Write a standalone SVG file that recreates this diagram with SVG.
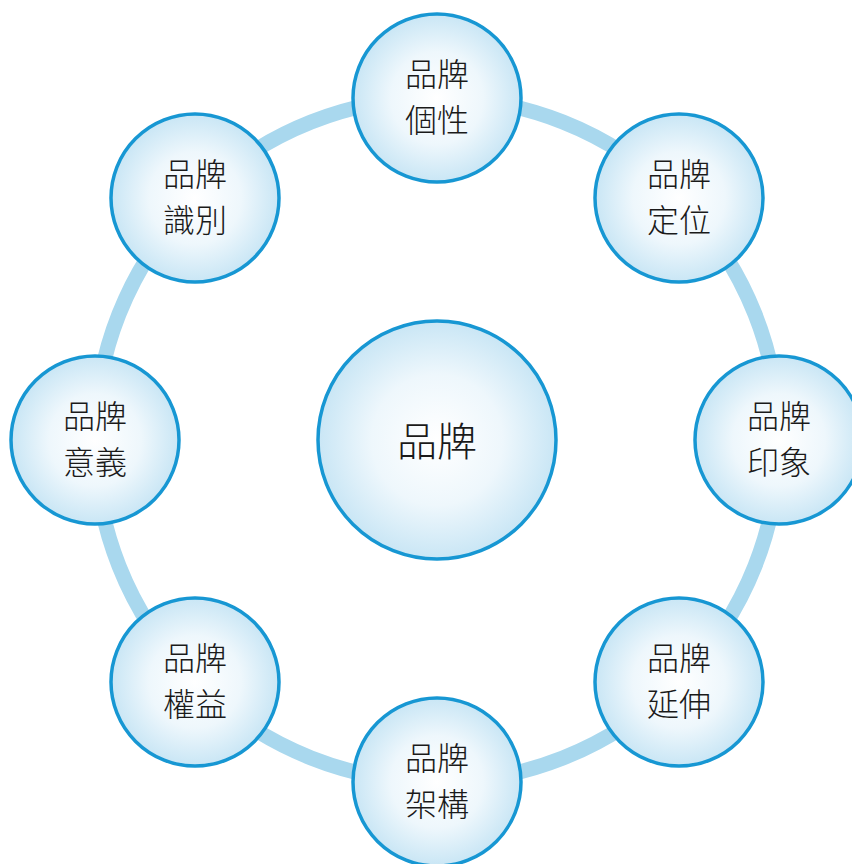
<svg xmlns="http://www.w3.org/2000/svg" width="852" height="864" viewBox="0 0 852 864">
<defs>
<radialGradient id="g" cx="50%" cy="50%" r="50%">
<stop offset="0" stop-color="#ffffff"/>
<stop offset="0.55" stop-color="#eef7fc"/>
<stop offset="1" stop-color="#c9e6f5"/>
</radialGradient>
<style>
.n{fill:url(#g);stroke:#1797d3;stroke-width:3.5}
.t{font-family:"Noto Sans CJK TC","Noto Sans CJK SC",sans-serif;font-weight:200;font-size:32px;fill:#1a1a1a;text-anchor:middle}
.c{font-size:40px}
</style>
</defs>
<rect width="852" height="864" fill="#ffffff"/>
<g id="connectors">
<circle cx="437" cy="440" r="342" fill="none" stroke="#a9d8ee" stroke-width="15"/>
</g>
<g id="center"><circle class="n" cx="437" cy="440" r="119"/><text class="t c" x="437" y="456">品牌</text></g>
<g id="n1"><circle class="n" cx="437" cy="98" r="84"/><text class="t" x="437" y="86">品牌</text><text class="t" x="437" y="132">個性</text></g>
<g id="n2"><circle class="n" cx="679" cy="198" r="84"/><text class="t" x="679" y="186">品牌</text><text class="t" x="679" y="232">定位</text></g>
<g id="n3"><circle class="n" cx="779" cy="440" r="84"/><text class="t" x="779" y="428">品牌</text><text class="t" x="779" y="474">印象</text></g>
<g id="n4"><circle class="n" cx="679" cy="682" r="84"/><text class="t" x="679" y="670">品牌</text><text class="t" x="679" y="716">延伸</text></g>
<g id="n5"><circle class="n" cx="437" cy="782" r="84"/><text class="t" x="437" y="770">品牌</text><text class="t" x="437" y="816">架構</text></g>
<g id="n6"><circle class="n" cx="195" cy="682" r="84"/><text class="t" x="195" y="670">品牌</text><text class="t" x="195" y="716">權益</text></g>
<g id="n7"><circle class="n" cx="95" cy="440" r="84"/><text class="t" x="95" y="428">品牌</text><text class="t" x="95" y="474">意義</text></g>
<g id="n8"><circle class="n" cx="195" cy="198" r="84"/><text class="t" x="195" y="186">品牌</text><text class="t" x="195" y="232">識別</text></g>
</svg>
